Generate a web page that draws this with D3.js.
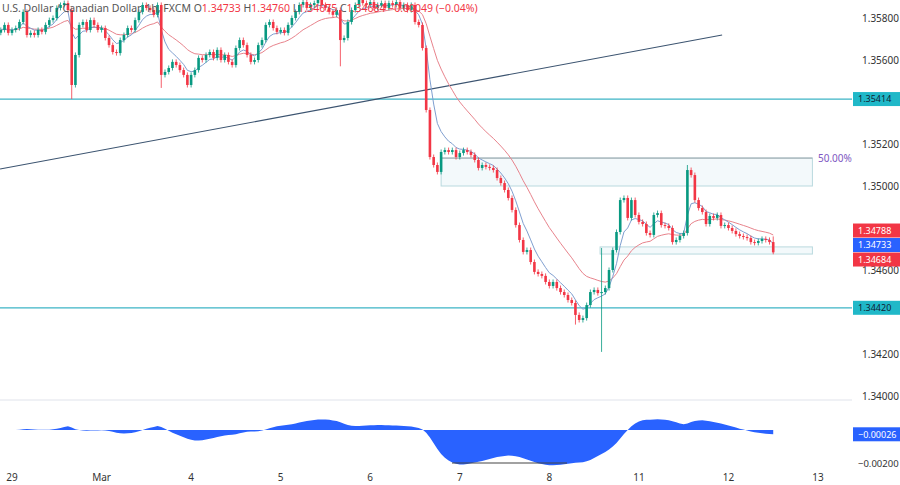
<!DOCTYPE html>
<html>
<head>
<meta charset="utf-8">
<script src="https://cdn.jsdelivr.net/npm/d3@7"></script>
<style>
  body { margin: 0; background: #fff; }
  svg { display: block; font-family: "Noto Sans", "DejaVu Sans", sans-serif; }
</style>
</head>
<body>
<div id="chart"></div>
<script>
// hourly closes, USDCAD, starting 3 bars before Feb 29 00:00
const closes = [
  1.35743, 1.35767, 1.35729,
  1.35743, 1.35752, 1.35781, 1.35829, 1.35719, 1.35729, 1.35719, 1.35743, 1.35734,
  1.35767, 1.3579, 1.358, 1.35848, 1.35862, 1.35871, 1.35838, 1.35481, 1.35624,
  1.35767, 1.35781, 1.35743, 1.3579, 1.35767, 1.35743, 1.35752, 1.35705, 1.35671,
  1.35638, 1.35633, 1.35695, 1.35719, 1.35752, 1.35743, 1.3579, 1.35829, 1.35862,
  1.35848, 1.35838, 1.35815, 1.35862, 1.35529, 1.35543, 1.35562, 1.35591, 1.35576,
  1.35552, 1.35529, 1.35481, 1.35529, 1.35552, 1.3561, 1.356, 1.35624, 1.35638,
  1.3561, 1.35648, 1.356, 1.35624, 1.35591, 1.35576, 1.35657, 1.35695, 1.35671,
  1.35624, 1.35591, 1.356, 1.35671, 1.35695, 1.35767, 1.35781, 1.35752, 1.35734,
  1.35743, 1.35729, 1.35767, 1.358, 1.35829, 1.35862, 1.35876, 1.35848, 1.35862,
  1.35871, 1.35886, 1.35862, 1.35848, 1.35829, 1.35815, 1.35838, 1.35695, 1.35705,
  1.35781, 1.35838, 1.35862, 1.35886, 1.35871, 1.35862, 1.35876, 1.35848, 1.35862,
  1.35871, 1.35848, 1.35871, 1.35862, 1.35876, 1.35848, 1.35862, 1.35838, 1.35862,
  1.35781, 1.35767, 1.35657, 1.35362, 1.35138, 1.351, 1.35067, 1.35162, 1.35171,
  1.35162, 1.35171, 1.35138, 1.35157, 1.35171, 1.35162, 1.35148, 1.35124, 1.35086,
  1.351, 1.35091, 1.35086, 1.35076, 1.35038, 1.35014, 1.34981, 1.34943, 1.34886,
  1.34814, 1.34743, 1.34686, 1.34695, 1.34638, 1.34591, 1.34581, 1.34572, 1.34543,
  1.34524, 1.34543, 1.34514, 1.34495, 1.34481, 1.34457, 1.34443, 1.34386, 1.34362,
  1.34371, 1.34433, 1.34495, 1.34505, 1.3449, 1.34495, 1.34514, 1.346, 1.34695,
  1.34781, 1.34933, 1.34943, 1.34848, 1.34933, 1.34862, 1.34829, 1.34819, 1.34776,
  1.34767, 1.34862, 1.34871, 1.34814, 1.3481, 1.348, 1.34733, 1.34743, 1.34762,
  1.34776, 1.35076, 1.35052, 1.34933, 1.34895, 1.34876, 1.34819, 1.34857, 1.34848,
  1.34862, 1.3481, 1.34814, 1.348, 1.34786, 1.34771, 1.34762, 1.34757, 1.34752,
  1.34733, 1.34729, 1.34738, 1.34748, 1.34743, 1.34733, 1.34684
];
const firstIndex = -3;
const firstOpen = 1.3573;
// notable wicks: bar index -> [high, low]
const wicks = {
  16: [null, 1.35414], 40: [null, 1.35467], 88: [null, 1.3557],
  151: [null, 1.3434], 158: [1.34705, 1.3421], 181: [1.351, null],
  204: [1.3476, 1.34675]
};
const dayTicks = [
  { i: 0, label: "29" }, { i: 24, label: "Mar" }, { i: 48, label: "4" },
  { i: 72, label: "5" }, { i: 96, label: "6" }, { i: 120, label: "7" },
  { i: 144, label: "8" }, { i: 168, label: "11" }, { i: 192, label: "12" },
  { i: 216, label: "13" }
];
const priceTicks = [1.358, 1.356, 1.352, 1.350, 1.346, 1.342, 1.340];
const levels = [1.35414, 1.3442];
const trendLine = [{ i: -3.2, p: 1.35081 }, { i: 190.3, p: 1.35719 }];
const zoneUpper = { i0: 115, i1: 214.5, top: 1.35133, bottom: 1.35 };
const zoneLower = { i0: 157.6, i1: 214.5, top: 1.3471, bottom: 1.34676 };
const priceTags = [
  { v: 1.34788, color: "#f23645" }, { v: 1.34733, color: "#2962ff" }, { v: 1.34684, color: "#f23645" }
];
const oscTicks = [-0.002];
const oscLastTag = -0.00026;

const W = 900, H = 485, plotRight = 852;
const green = "#089981", red = "#f23645", teal = "#3cb4c6";

const bars = closes.map((c, k) => {
  const i = k + firstIndex;
  const o = k === 0 ? firstOpen : closes[k - 1];
  const w = wicks[i] || [null, null];
  return {
    i, o, c,
    h: w[0] != null ? w[0] : Math.max(o, c) + 0.00012,
    l: w[1] != null ? w[1] : Math.min(o, c) - 0.00012
  };
});

function ema(vals, n) {
  const a = 2 / (n + 1);
  let prev = vals[0];
  return vals.map(v => (prev = prev + a * (v - prev)));
}
const fast = ema(closes, 6);
const slow = ema(closes, 20);
// oscillator: smoothed gap between the two averages
const osc = ema(ema(closes, 9).map((f, k) => f - ema(closes, 24)[k]), 7);

const x = d3.scaleLinear().domain([0, 216]).range([12, 818]);
const y = d3.scaleLinear().domain([1.358, 1.340]).range([18, 396]);
const yo = d3.scaleLinear().domain([0, -0.002]).range([430, 463]);

const svg = d3.select("#chart").append("svg").attr("width", W).attr("height", H);

svg.append("clipPath").attr("id", "topclip").append("rect")
  .attr("x", 0).attr("y", 0).attr("width", plotRight).attr("height", 399);
const pane = svg.append("g").attr("clip-path", "url(#topclip)");

// zones
[zoneUpper, zoneLower].forEach(z => {
  pane.append("rect")
    .attr("x", x(z.i0)).attr("y", y(z.top))
    .attr("width", x(z.i1) - x(z.i0)).attr("height", y(z.bottom) - y(z.top))
    .attr("fill", "#eef7f9").attr("fill-opacity", 0.7)
    .attr("stroke", "#b9d9de").attr("stroke-width", 1);
});
pane.append("line")
  .attr("x1", x(zoneUpper.i0)).attr("x2", x(zoneUpper.i1))
  .attr("y1", y(zoneUpper.top)).attr("y2", y(zoneUpper.top))
  .attr("stroke", "#9aa3a8").attr("stroke-width", 1);
svg.append("text").attr("x", 818).attr("y", y(zoneUpper.top) + 4)
  .attr("font-size", 10).attr("fill", "#7e57c2").text("50.00%");

// levels and trend line
levels.forEach(v => {
  pane.append("line").attr("x1", 0).attr("x2", plotRight)
    .attr("y1", y(v)).attr("y2", y(v)).attr("stroke", teal).attr("stroke-width", 1.2);
});
pane.append("line")
  .attr("x1", x(trendLine[0].i)).attr("y1", y(trendLine[0].p))
  .attr("x2", x(trendLine[1].i)).attr("y2", y(trendLine[1].p))
  .attr("stroke", "#3c5470").attr("stroke-width", 1.2);

// moving averages
const maLine = arr => d3.line().x((d, k) => x(k + firstIndex)).y(d => y(d))(arr);
pane.append("path").attr("d", maLine(slow)).attr("fill", "none")
  .attr("stroke", "#e8838c").attr("stroke-width", 1);
pane.append("path").attr("d", maLine(fast)).attr("fill", "none")
  .attr("stroke", "#7f9fd0").attr("stroke-width", 1);

// candles
const cg = pane.selectAll(".bar").data(bars).join("g")
  .attr("fill", d => d.c >= d.o ? green : red)
  .attr("stroke", d => d.c >= d.o ? green : red);
cg.append("line")
  .attr("x1", d => x(d.i)).attr("x2", d => x(d.i))
  .attr("y1", d => y(d.h)).attr("y2", d => y(d.l)).attr("stroke-width", 0.8);
cg.append("rect")
  .attr("x", d => x(d.i) - 1.3).attr("width", 2.6)
  .attr("y", d => y(Math.max(d.o, d.c)))
  .attr("height", d => Math.max(1, Math.abs(y(d.o) - y(d.c))))
  .attr("stroke", "none");

// header
const head = svg.append("text").attr("x", 2).attr("y", 12).attr("font-size", 10.5).attr("fill", "#555");
head.append("tspan").text("U.S. Dollar / Canadian Dollar, 1h, FXCM  O");
head.append("tspan").attr("fill", red).text("1.34733");
head.append("tspan").text("  H");
head.append("tspan").attr("fill", red).text("1.34760");
head.append("tspan").text("  L");
head.append("tspan").attr("fill", red).text("1.34675");
head.append("tspan").text("  C");
head.append("tspan").attr("fill", red).text("1.34684  \u22120.00049 (\u22120.04%)");

// price axis
svg.selectAll(".pt").data(priceTicks).join("text")
  .attr("x", 862).attr("y", d => y(d) + 4).attr("font-size", 10).attr("fill", "#333")
  .text(d => d.toFixed(5));
const tag = (v, yy, color, fg) => {
  svg.append("rect").attr("x", 853).attr("y", yy - 7).attr("width", 47).attr("height", 14).attr("fill", color);
  svg.append("text").attr("x", 858).attr("y", yy + 3.3).attr("font-size", 9).attr("fill", fg).text(v);
};
levels.forEach(v => tag(v.toFixed(5), y(v), "#20b8c8", "#123"));
// stack the last-value tags so they do not overlap
let prevY = -Infinity;
priceTags.forEach(t => {
  const yy = Math.max(y(t.v), prevY + 14.5);
  prevY = yy;
  tag(t.v.toFixed(5), yy, t.color, "#fff");
});

// oscillator pane
svg.append("line").attr("x1", 0).attr("x2", plotRight).attr("y1", 400).attr("y2", 400)
  .attr("stroke", "#e0e3eb");
const area = d3.area().x((d, k) => x(k + firstIndex)).y0(yo(0)).y1(d => yo(d));
svg.append("path").attr("d", area(osc)).attr("fill", "#2962ff");
svg.append("line").attr("x1", 452).attr("x2", 567).attr("y1", 463).attr("y2", 463)
  .attr("stroke", "#444").attr("stroke-width", 1.2);
svg.selectAll(".ot").data(oscTicks).join("text")
  .attr("x", 858).attr("y", d => yo(d) + 4).attr("font-size", 9.5).attr("fill", "#333")
  .text(d => "\u2212" + Math.abs(d).toFixed(5));
tag("\u2212" + Math.abs(oscLastTag).toFixed(5), yo(oscLastTag), "#2962ff", "#fff");

// time axis
svg.selectAll(".dt").data(dayTicks).join("text")
  .attr("x", d => x(d.i)).attr("y", 481).attr("text-anchor", "middle")
  .attr("font-size", 10).attr("fill", "#333").text(d => d.label);
</script>
</body>
</html>
